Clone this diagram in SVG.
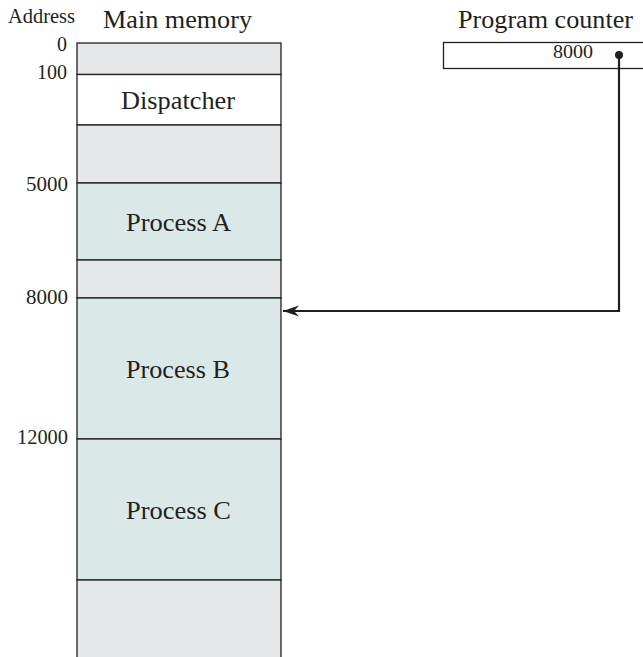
<svg xmlns="http://www.w3.org/2000/svg" width="643" height="657" viewBox="0 0 643 657">
<style>
  .t { font-family: "Liberation Serif", "Times New Roman", serif; fill: #231f20; }
  .addr { font-size: 20px; text-anchor: end; }
  .lbl { font-size: 26px; }
  .hdr { font-size: 26px; }
  .seg { stroke: #231f20; stroke-width: 1.3; }
  .gray { fill: #e6e7e8; }
  .white { fill: #ffffff; }
  .proc { fill: #dbe8e8; }
  .conn { fill: none; stroke: #231f20; stroke-width: 2.2; }
</style>
<defs>
  <marker id="arrow" markerUnits="userSpaceOnUse" markerWidth="18" markerHeight="12" refX="17" refY="6" orient="auto" viewBox="0 0 18 12">
    <path d="M17,6 L1,0.5 L6,6 L1,11.5 Z" fill="#231f20"/>
  </marker>
</defs>
<rect width="643" height="657" fill="#ffffff"/>

<g id="headers">
  <text class="t" x="8" y="23" font-size="20" textLength="67" lengthAdjust="spacingAndGlyphs">Address</text>
  <text class="t hdr" x="103" y="28" textLength="149" lengthAdjust="spacingAndGlyphs">Main memory</text>
  <text class="t hdr" x="458" y="28" textLength="175" lengthAdjust="spacingAndGlyphs">Program counter</text>
</g>

<g id="addresses">
  <text class="t addr" x="67" y="51">0</text>
  <text class="t addr" x="67" y="79" textLength="30" lengthAdjust="spacingAndGlyphs">100</text>
  <text class="t addr" x="68" y="191" textLength="42" lengthAdjust="spacingAndGlyphs">5000</text>
  <text class="t addr" x="68" y="304" textLength="42" lengthAdjust="spacingAndGlyphs">8000</text>
  <text class="t addr" x="68" y="444" textLength="51" lengthAdjust="spacingAndGlyphs">12000</text>
</g>

<g id="mem-top">
  <rect class="seg gray" x="77" y="43" width="204" height="31.5"/>
</g>
<g id="dispatcher">
  <rect class="seg white" x="77" y="74.5" width="204" height="50.5"/>
  <text class="t lbl" x="121" y="109" textLength="114" lengthAdjust="spacingAndGlyphs">Dispatcher</text>
</g>
<g id="mem-gap1">
  <rect class="seg gray" x="77" y="125" width="204" height="58"/>
</g>
<g id="processA">
  <rect class="seg proc" x="77" y="183" width="204" height="77"/>
  <text class="t lbl" x="126" y="231" textLength="105" lengthAdjust="spacingAndGlyphs">Process A</text>
</g>
<g id="mem-gap2">
  <rect class="seg gray" x="77" y="260" width="204" height="38"/>
</g>
<g id="processB">
  <rect class="seg proc" x="77" y="298" width="204" height="141"/>
  <text class="t lbl" x="126" y="378" textLength="104" lengthAdjust="spacingAndGlyphs">Process B</text>
</g>
<g id="processC">
  <rect class="seg proc" x="77" y="439" width="204" height="141"/>
  <text class="t lbl" x="126" y="519" textLength="105" lengthAdjust="spacingAndGlyphs">Process C</text>
</g>
<g id="mem-bottom">
  <rect class="seg gray" x="77" y="580" width="204" height="90"/>
</g>

<g id="program-counter">
  <rect class="seg white" x="443.5" y="42.5" width="220" height="26"/>
  <text class="t" x="553" y="58" font-size="18" textLength="40" lengthAdjust="spacingAndGlyphs">8000</text>
</g>

<g id="connectors">
  <circle cx="619" cy="55" r="4" fill="#231f20"/>
  <path class="conn" d="M619,55 V311 H283" marker-end="url(#arrow)"/>
</g>
</svg>
